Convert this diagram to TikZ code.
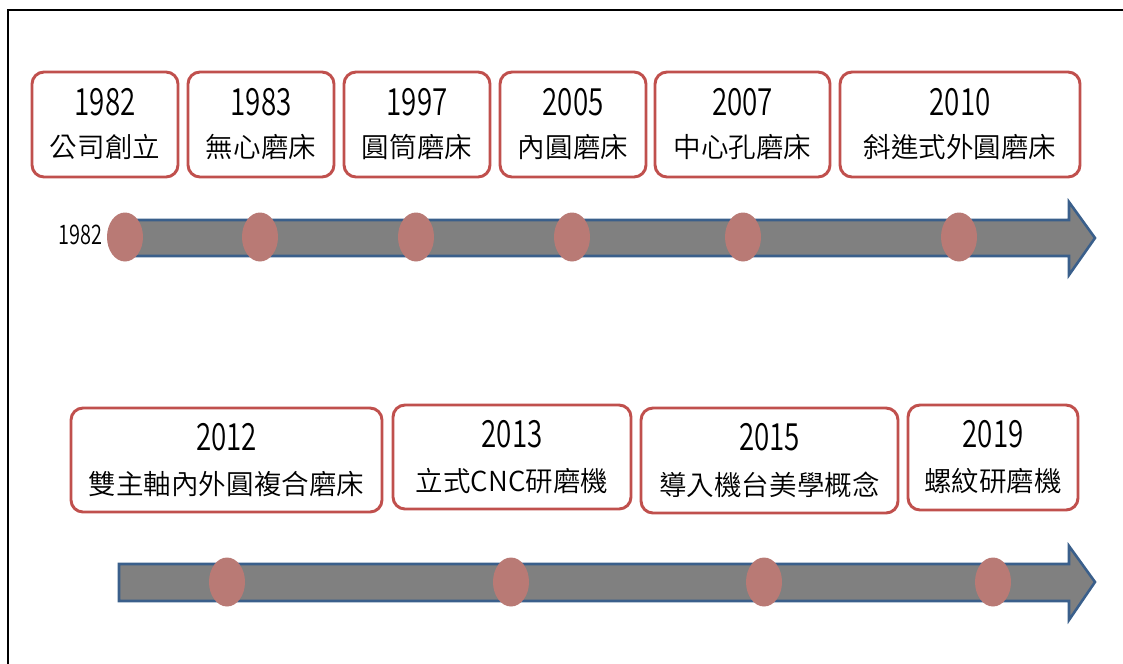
\documentclass[tikz,border=0pt]{standalone}
\usepackage{fontspec}
\usetikzlibrary{shapes.geometric,calc}
\newfontfamily\zhfont{Noto Sans CJK TC DemiLight}
\newfontfamily\yrfont[FakeStretch=0.74]{Noto Sans CJK TC DemiLight}
\definecolor{boxred}{HTML}{C0504D}
\definecolor{dotred}{HTML}{B97A75}
\definecolor{shaftgray}{HTML}{808080}
\definecolor{shaftblue}{HTML}{3A5F8B}
\tikzset{
  evbox/.style={draw=boxred, line width=2.5pt, rounded corners=0.36cm, fill=white,
    inner sep=0pt, minimum height=105*0.03cm},
  yrtext/.style={font=\yrfont\fontsize{32}{38}\selectfont, inner sep=0pt},
  zhtext/.style={font=\zhfont\fontsize{23.5}{28}\selectfont, inner sep=0pt},
  smallyr/.style={font=\yrfont\fontsize{23}{27}\selectfont, inner sep=0pt},
  dot/.style={ellipse, fill=dotred, draw=none, minimum width=36*0.03cm, minimum height=49*0.03cm, inner sep=0pt},
  shaft/.style={fill=shaftgray, draw=shaftblue, line width=2.2pt, line join=miter},
  frameline/.style={draw=black, line width=1.7pt}
}
\begin{document}
\begin{tikzpicture}[x=0.03cm, y=-0.03cm]
\useasboundingbox (0,0) rectangle (1123,663);
% frame
\draw[frameline] (8,680) -- (8,10) -- (1140,10);

% ---------- top row ----------
\node[evbox, minimum width=146*0.03cm] (b1) at (105,124.5) {};
\node[evbox, minimum width=146*0.03cm] (b2) at (261,124.5) {};
\node[evbox, minimum width=146*0.03cm] (b3) at (417,124.5) {};
\node[evbox, minimum width=146*0.03cm] (b4) at (573,124.5) {};
\node[evbox, minimum width=175*0.03cm] (b5) at (742.5,124.5) {};
\node[evbox, minimum width=240*0.03cm] (b6) at (960,124.5) {};
\foreach \b/\y/\t in {b1/1982/公司創立, b2/1983/無心磨床, b3/1997/圓筒磨床, b4/2005/內圓磨床, b5/2007/中心孔磨床, b6/2010/斜進式外圓磨床}{
  \node[yrtext] (\b y) at ($(\b.center)+(0,-22.5)$) {\y};
  \node[zhtext] (\b t) at ($(\b.center)+(0,22.5)$) {\t};
}

% top arrow
\path[shaft] (122,220) -- (1069,220) -- (1069,202) -- (1095,238) -- (1069,275) -- (1069,256) -- (122,256) -- cycle;
\node[smallyr, anchor=east] (start) at (103,235) {1982};
\node[dot] (d1) at (125,237) {};
\node[dot] (d2) at (260,237) {};
\node[dot] (d3) at (416,237) {};
\node[dot] (d4) at (572,237) {};
\node[dot] (d5) at (743,237) {};
\node[dot] (d6) at (959,237) {};

% ---------- bottom row ----------
\node[evbox, minimum width=311*0.03cm, minimum height=104*0.03cm] (c1) at (226.5,460) {};
\node[evbox, minimum width=238*0.03cm, minimum height=104*0.03cm] (c2) at (512,457) {};
\node[evbox, minimum width=257*0.03cm, minimum height=105*0.03cm] (c3) at (769.5,460.5) {};
\node[evbox, minimum width=170*0.03cm, minimum height=105*0.03cm] (c4) at (993,457.5) {};
\foreach \b/\y/\t in {c1/2012/雙主軸內外圓複合磨床, c2/2013/立式CNC研磨機, c3/2015/導入機台美學概念, c4/2019/螺紋研磨機}{
  \node[yrtext] (\b y) at ($(\b.center)+(0,-23)$) {\y};
  \node[zhtext] (\b t) at ($(\b.center)+(0,24)$) {\t};
}

% bottom arrow
\path[shaft] (119,564) -- (1069,564) -- (1069,546) -- (1095,582) -- (1069,620) -- (1069,601) -- (119,601) -- cycle;
\node[dot] (e1) at (227,582) {};
\node[dot] (e2) at (511,582) {};
\node[dot] (e3) at (764,582) {};
\node[dot] (e4) at (993,582) {};
\end{tikzpicture}
\end{document}
